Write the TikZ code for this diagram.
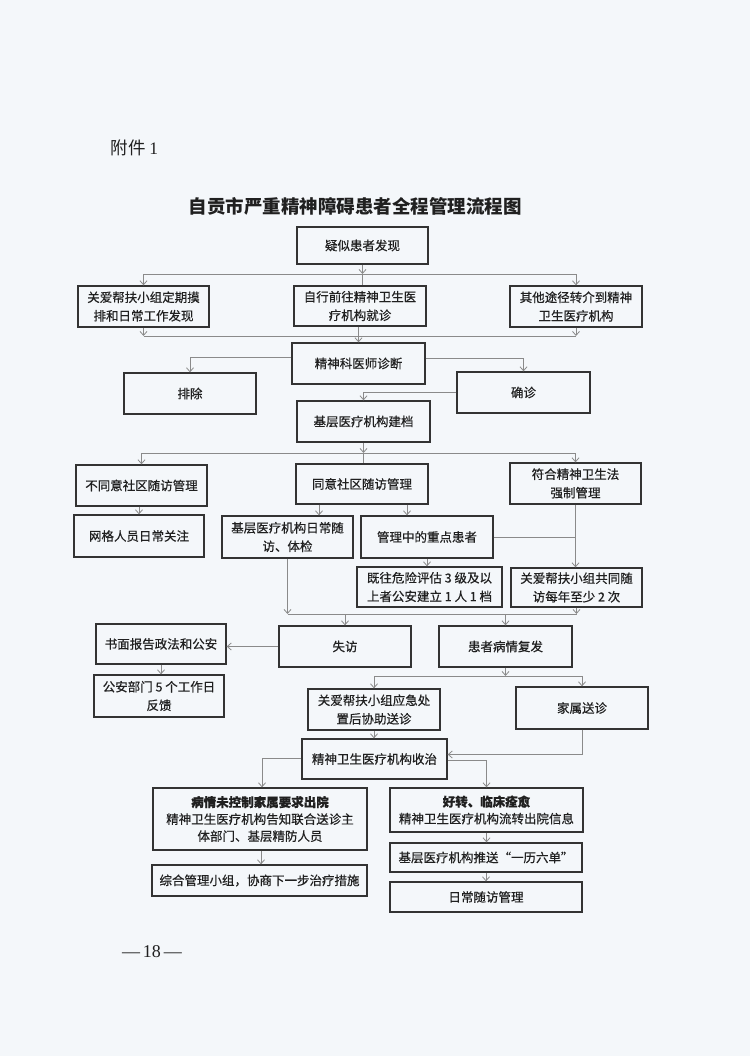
\documentclass[tikz,border=0pt]{standalone}
\usepackage{fontspec}
\setmainfont{Noto Sans CJK SC}
\newfontfamily\boxfont[FakeBold=0.5]{Noto Sans CJK SC}
\newfontfamily\serifnum{Liberation Serif}
\usetikzlibrary{arrows.meta}
\definecolor{bg}{HTML}{F4F7FA}
\definecolor{boxline}{HTML}{333333}
\definecolor{conn}{HTML}{8A8A8A}
\definecolor{txt}{HTML}{202020}
\begin{document}
\begin{tikzpicture}[x=1pt,y=-1pt,
  box/.style={draw=boxline, line width=1.3pt, align=center, inner sep=0pt, text=txt,
    font=\boxfont\fontsize{12.5}{18.5}\selectfont},
  ln/.style={draw=conn, line width=0.8pt},
  arr/.style={ln, -{Straight Barb[length=4pt,width=7pt]}},
]
\fill[bg] (0,0) rectangle (750,1056);
\useasboundingbox (0,0) rectangle (750,1056);

\node[anchor=west, text=txt, font=\fontsize{17.5}{20}\selectfont] (fj) at (107,148) {附件 {\serifnum 1}};
\node[text=txt, font=\bfseries\fontsize{18.5}{22}\selectfont] (title) at (355,206) {自贡市严重精神障碍患者全程管理流程图};
\node[text=txt, font=\serifnum\fontsize{18}{20}\selectfont] (pg) at (152,952) {—\,18\,—};

\node[box, minimum width=131pt, minimum height=37pt] (n1) at (362.5,245.5) {疑似患者发现};
\node[box, minimum width=131pt, minimum height=41pt] (a1) at (143.5,306.5) {关爱帮扶小组定期摸\\排和日常工作发现};
\node[box, minimum width=132pt, minimum height=40pt] (a2) at (360,306) {自行前往精神卫生医\\疗机构就诊};
\node[box, minimum width=132pt, minimum height=41pt] (a3) at (576,306.5) {其他途径转介到精神\\卫生医疗机构};
\node[box, minimum width=133pt, minimum height=41pt] (zd) at (358.5,363.5) {精神科医师诊断};
\node[box, minimum width=132pt, minimum height=41pt] (pc) at (190,393.5) {排除};
\node[box, minimum width=133pt, minimum height=41pt] (qz) at (523.5,392.5) {确诊};
\node[box, minimum width=133pt, minimum height=41pt] (jd) at (363.5,421.5) {基层医疗机构建档};
\node[box, minimum width=131pt, minimum height=41pt] (b1) at (141.5,485.5) {不同意社区随访管理};
\node[box, minimum width=132pt, minimum height=40pt] (b2) at (362,484) {同意社区随访管理};
\node[box, minimum width=131pt, minimum height=41pt] (b3) at (575.5,483.5) {符合精神卫生法\\强制管理};
\node[box, minimum width=130pt, minimum height=42pt] (c1) at (139,536) {网格人员日常关注};
\node[box, minimum width=131pt, minimum height=42pt] (c2) at (287.5,537) {基层医疗机构日常随\\访、体检};
\node[box, minimum width=132pt, minimum height=42pt] (c3) at (427,537) {管理中的重点患者};
\node[box, minimum width=145pt, minimum height=40pt] (d1) at (429.5,587) {既往危险评估 3 级及以\\上者公安建立 1 人 1 档};
\node[box, minimum width=131pt, minimum height=39pt] (d2) at (576.5,587.5) {关爱帮扶小组共同随\\访每年至少 2 次};
\node[box, minimum width=132pt, minimum height=41pt] (e1) at (345,646.5) {失访};
\node[box, minimum width=133pt, minimum height=41pt] (e2) at (505.5,646.5) {患者病情复发};
\node[box, minimum width=130pt, minimum height=40pt] (e0) at (161,644) {书面报告政法和公安};
\node[box, minimum width=130pt, minimum height=42pt] (f0) at (159,696) {公安部门 5 个工作日\\反馈};
\node[box, minimum width=132pt, minimum height=41pt] (f1) at (374,709.5) {关爱帮扶小组应急处\\置后协助送诊};
\node[box, minimum width=132pt, minimum height=42pt] (f2) at (582,708) {家属送诊};
\node[box, minimum width=145pt, minimum height=40pt] (g) at (374.5,759) {精神卫生医疗机构收治};
\node[box, minimum width=214pt, minimum height=62pt, font=\boxfont\fontsize{12.5}{17}\selectfont] (h1) at (260,819) {{\bfseries 病情未控制家属要求出院}\\精神卫生医疗机构告知联合送诊主\\体部门、基层精防人员};
\node[box, minimum width=193pt, minimum height=44pt, font=\boxfont\fontsize{12.5}{17}\selectfont] (h2) at (486.5,810) {{\bfseries 好转、临床痊愈}\\精神卫生医疗机构流转出院信息};
\node[box, minimum width=215pt, minimum height=31pt] (i1) at (259.5,880.5) {综合管理小组，协商下一步治疗措施};
\node[box, minimum width=192pt, minimum height=29pt] (i2) at (486,857.5) {基层医疗机构推送“一历六单”};
\node[box, minimum width=192pt, minimum height=30pt] (i3) at (486,897) {日常随访管理};

% top branch
\coordinate (j1) at (362.5,274);
\draw[arr] (n1.south) -- (j1);
\draw[arr] (j1) -| (a1.north);
\draw[arr] (j1) -| (a3.north);
\draw[ln] (j1) -- (j1 |- a2.north);
% merge
\coordinate (j2) at (358.5,336);
\draw[ln] (a1.south |- j2) -- (a3.south |- j2);
\draw[arr] (a1.south) -- (a1.south |- j2);
\draw[arr] (a3.south) -- (a3.south |- j2);
\draw[arr] (a2.south -| zd.north) -- (zd.north);
% diagnosis
\draw[arr] ([yshift=6.5pt]zd.west) -| (pc.north);
\draw[arr] ([yshift=5.5pt]zd.east) -| (qz.north);
\draw[arr] (qz.west) -| (jd.north);
% file branch
\coordinate (j3) at (363.5,453);
\draw[arr] (jd.south) -- (j3);
\draw[arr] (j3) -| (b1.north);
\draw[arr] (j3) -| (b3.north);
\draw[ln] (j3) -- (j3 |- b2.north);
\draw[arr] (b1.south -| c1.north) -- (c1.north);
\draw[arr] ([xshift=-43pt]b2.south) -- ([xshift=-43pt]b2.south |- c2.north);
\draw[arr] ([xshift=45pt]b2.south) -- ([xshift=45pt]b2.south |- c3.north);
\draw[arr] (b3.south) -- (b3.south |- d2.north);
\draw[ln] (c3.east) -- (c3.east -| b3.south);
\draw[arr] (c3.south) -- (c3.south |- d1.north);
% lost / relapse
\coordinate (j4) at (287.5,614);
\draw[ln] (j4) -- (d2.south |- j4);
\draw[arr] (c2.south) -- (j4);
\draw[arr] (d2.south) -- (d2.south |- j4);
\draw[arr] (e1.north |- j4) -- (e1.north);
\draw[arr] (e2.north |- j4) -- (e2.north);
\draw[arr] (e1.west) -- (e1.west -| e0.east);
\draw[arr] (e0.south) -- (e0.south |- f0.north);
% relapse branch
\coordinate (j5) at (505.5,676);
\draw[ln] (j5 -| f1.north) -- (j5 -| f2.north);
\draw[arr] (e2.south) -- (j5);
\draw[arr] (j5 -| f1.north) -- (f1.north);
\draw[arr] (j5 -| f2.north) -- (f2.north);
\draw[arr] (f1.south) -- (f1.south |- g.north);
\draw[arr] (f2.south) |- ([yshift=4.5pt]g.east);
% discharge
\draw[arr] ([yshift=1pt]g.west) -| ([xshift=2pt]h1.north);
\draw[arr] ([yshift=-1pt]g.east) -| (h2.north);
\draw[arr] ([xshift=1pt]h1.south) -- ([xshift=1pt]h1.south |- i1.north);
\draw[arr] (h2.south) -- (h2.south |- i2.north);
\draw[arr] (i2.south) -- (i2.south |- i3.north);
\end{tikzpicture}
\end{document}
